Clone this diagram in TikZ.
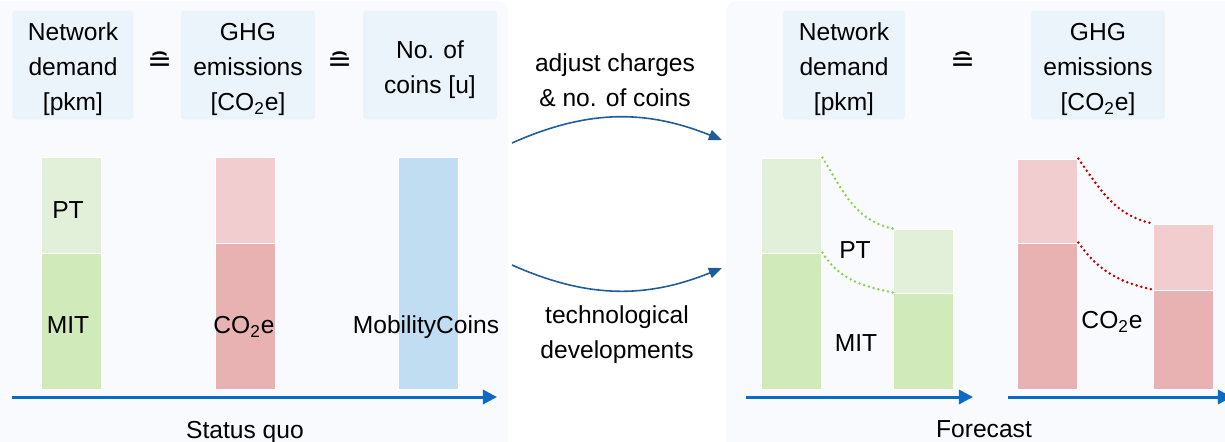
\documentclass[tikz,border=0pt]{standalone}
\usepackage{fontspec}
\setmainfont{Liberation Sans}
\newfontfamily\symfont{DejaVu Sans}
\usetikzlibrary{arrows.meta}

\definecolor{panelbg}{HTML}{F8FAFD}
\definecolor{hdrblue}{HTML}{EAF4FA}
\definecolor{ptgreen}{HTML}{E2F0D9}
\definecolor{mitgreen}{HTML}{D1EAB9}
\definecolor{redlight}{HTML}{F2CDD0}
\definecolor{reddark}{HTML}{E8B2B2}
\definecolor{coinblue}{HTML}{C1DDF1}
\definecolor{axisblue}{HTML}{0A6AC4}
\definecolor{curveblue}{HTML}{1F5C99}
\definecolor{dotgreen}{HTML}{92D050}
\definecolor{dotred}{HTML}{C00000}

% strut that pushes header text a little down
\newcommand{\hdrtop}{\rule{0pt}{15pt}}

\tikzset{
  hdr/.style={fill=hdrblue, rounded corners=2pt, align=center, minimum height=2.18cm, inner sep=0pt},
  bar/.style={draw=white, line width=0.8pt, minimum width=1.2cm, inner sep=0pt, anchor=south west},
  equiv/.style={font=\symfont\fontsize{17pt}{17pt}\selectfont},
  axis/.style={draw=axisblue, line width=1.7pt, -{Triangle[length=8pt,width=8pt]}},
  trend/.style={draw=curveblue, line width=0.9pt, -{Triangle[length=7.5pt,width=6pt]}},
  fade/.style={line width=1.6pt, line cap=round, dash pattern=on 0pt off 2.8pt},
}

\begin{document}
\begin{tikzpicture}[x=0.02cm, y=-0.02cm, font=\fontsize{14pt}{19.8pt}\selectfont]
    \useasboundingbox (0,0) rectangle (1225,441);
    % Panels
    \fill[panelbg, rounded corners=6pt] (-15,1) rectangle (508,460);
    \fill[panelbg, rounded corners=6pt] (726,1) rectangle (1240,460);

    % Status quo: headers
    \node[hdr, minimum width=2.42cm] (sqDemand) at (73,65) {\hdrtop Network\\demand\\{[pkm]}};
    \node[equiv] (eqA) at (160,62) {≘};
    \node[hdr, minimum width=2.68cm] (sqGhg) at (248,65) {\hdrtop GHG\\emissions\\{[CO\textsubscript{2}e]}};
    \node[equiv] (eqB) at (340,62) {≘};
    \node[hdr, minimum width=2.68cm] (sqCoins) at (430,65) {\hdrtop No. of\\coins [u]};

    % Status quo: bars
    \node[bar, fill=mitgreen, minimum height=2.72cm] (sqMit) at (41,390) {};
    \node[bar, fill=ptgreen, minimum height=1.92cm] (sqPt) at (41,254) {};
    \node[bar, fill=reddark, minimum height=2.92cm] (sqCo2) at (215,390) {};
    \node[bar, fill=redlight, minimum height=1.72cm] (sqCo2top) at (215,244) {};
    \node[bar, fill=coinblue, minimum height=4.64cm] (sqMc) at (398,390) {};
    \node (ptA) at (68,210) {PT};
    \node (mitA) at (68,325) {MIT};
    \node (co2A) at (244,327) {CO\textsubscript{2}e};
    \node (mcA) at (426,327) {MobilityCoins};

    % Status quo: axis
    \coordinate (sqAxL) at (12,397);
    \coordinate (sqAxR) at (497,397);
    \draw[axis] (sqAxL) -- (sqAxR);
    \node[anchor=base] (sqLbl) at (245,438) {Status quo};

    % Transition
    \coordinate (chgS) at (512,143);
    \coordinate (chgE) at (722,140);
    \coordinate (tecS) at (512,265);
    \coordinate (tecE) at (722,268);
    \draw[trend] (chgS) to[out=24, in=158] (chgE);
    \draw[trend] (tecS) to[out=-24, in=-158] (tecE);
    \node[align=center] (chgLbl) at (615,80) {adjust charges\\\& no. of coins};
    \node[align=center] (tecLbl) at (617,335) {technological\\developments};

    % Forecast: headers
    \node[hdr, minimum width=2.44cm] (fcDemand) at (844,65) {\hdrtop Network\\demand\\{[pkm]}};
    \node[equiv] (eqC) at (963,62) {≘};
    \node[hdr, minimum width=2.68cm] (fcGhg) at (1098,65) {\hdrtop GHG\\emissions\\{[CO\textsubscript{2}e]}};

    % Forecast: demand bars
    \node[bar, fill=mitgreen, minimum height=2.72cm] (fcMit0) at (761,390) {};
    \node[bar, fill=ptgreen, minimum height=1.9cm] (fcPt0) at (761,254) {};
    \node[bar, fill=mitgreen, minimum height=1.92cm] (fcMit1) at (893,390) {};
    \node[bar, fill=ptgreen, minimum height=1.28cm] (fcPt1) at (893,294) {};
    \draw[fade, dotgreen] (fcPt0.north east) to[out=-58, in=168] (fcPt1.north west);
    \draw[fade, dotgreen] (fcMit0.north east) to[out=-58, in=168] (fcMit1.north west);
    \node (ptB) at (855,250) {PT};
    \node (mitB) at (856,343) {MIT};

    % Forecast: emission bars
    \node[bar, fill=reddark, minimum height=2.92cm] (fcCo20) at (1017,390) {};
    \node[bar, fill=redlight, minimum height=1.68cm] (fcTop0) at (1017,244) {};
    \node[bar, fill=reddark, minimum height=1.98cm] (fcCo21) at (1153,390) {};
    \node[bar, fill=redlight, minimum height=1.32cm] (fcTop1) at (1153,291) {};
    \draw[fade, dotred] (fcTop0.north east) to[out=-55, in=168] (fcTop1.north west);
    \draw[fade, dotred] (fcCo20.north east) to[out=-55, in=168] (fcCo21.north west);
    \node (co2B) at (1112,322) {CO\textsubscript{2}e};

    % Forecast: axes
    \coordinate (fcAxL) at (746,397);
    \coordinate (fcAxM) at (973,397);
    \coordinate (fcAxN) at (1008,397);
    \coordinate (fcAxR) at (1232,397);
    \draw[axis] (fcAxL) -- (fcAxM);
    \draw[axis] (fcAxN) -- (fcAxR);
    \node[anchor=base] (fcLbl) at (984,437) {Forecast};
\end{tikzpicture}
\end{document}
